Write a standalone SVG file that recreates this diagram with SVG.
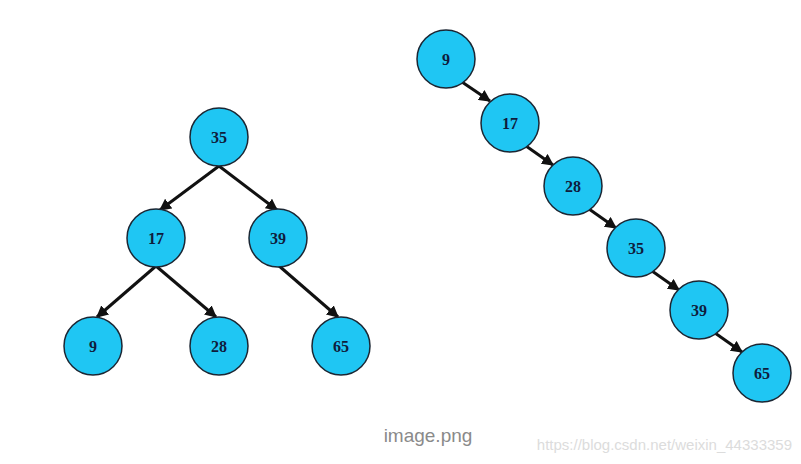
<svg xmlns="http://www.w3.org/2000/svg" width="801" height="464" viewBox="0 0 801 464">
<style>
.n circle{fill:#1fc6f3;stroke:#1b2633;stroke-width:1.5}
.n text{font-family:"Liberation Serif",serif;font-weight:bold;font-size:16px;fill:#0f1c3c;text-anchor:middle;dominant-baseline:central}
.e line{stroke:#111;stroke-width:3}
</style>
<defs>
<marker id="ah" viewBox="0 0 10 10" refX="9" refY="5" markerWidth="4" markerHeight="4" orient="auto" markerUnits="strokeWidth">
<path d="M0,0 L10,5 L0,10 z" fill="#111"/>
</marker>
</defs>
<rect width="801" height="464" fill="#fff"/>
<g class="e">
<line x1="219" y1="166" x2="160" y2="210" marker-end="url(#ah)"/>
<line x1="219" y1="166" x2="277" y2="210" marker-end="url(#ah)"/>
<line x1="156" y1="266" x2="97" y2="317" marker-end="url(#ah)"/>
<line x1="156" y1="266" x2="216" y2="317" marker-end="url(#ah)"/>
<line x1="278" y1="265" x2="338" y2="317" marker-end="url(#ah)"/>
<line x1="462" y1="82" x2="490" y2="101" marker-end="url(#ah)"/>
<line x1="526" y1="146" x2="553" y2="165" marker-end="url(#ah)"/>
<line x1="589" y1="209" x2="616" y2="228" marker-end="url(#ah)"/>
<line x1="652" y1="271" x2="679" y2="290" marker-end="url(#ah)"/>
<line x1="715" y1="333" x2="742" y2="352" marker-end="url(#ah)"/>
</g>
<g id="t35" class="n"><circle cx="219" cy="137" r="29"/><text x="219" y="137">35</text></g>
<g id="t17" class="n"><circle cx="156" cy="238" r="29"/><text x="156" y="238">17</text></g>
<g id="t39" class="n"><circle cx="278" cy="238" r="29"/><text x="278" y="238">39</text></g>
<g id="t9" class="n"><circle cx="93" cy="346" r="29"/><text x="93" y="346">9</text></g>
<g id="t28" class="n"><circle cx="219" cy="346" r="29"/><text x="219" y="346">28</text></g>
<g id="t65" class="n"><circle cx="341" cy="346" r="29"/><text x="341" y="346">65</text></g>
<g id="c9" class="n"><circle cx="446" cy="59" r="29"/><text x="446" y="59">9</text></g>
<g id="c17" class="n"><circle cx="510" cy="123" r="29"/><text x="510" y="123">17</text></g>
<g id="c28" class="n"><circle cx="573" cy="186" r="29"/><text x="573" y="186">28</text></g>
<g id="c35" class="n"><circle cx="636" cy="248" r="29"/><text x="636" y="248">35</text></g>
<g id="c39" class="n"><circle cx="699" cy="310" r="29"/><text x="699" y="310">39</text></g>
<g id="c65" class="n"><circle cx="762" cy="373" r="29"/><text x="762" y="373">65</text></g>
<text x="428" y="442" font-family="Liberation Sans,Arial,sans-serif" font-size="19" fill="#8a8a8a" text-anchor="middle">image.png</text>
<text x="792" y="450" font-family="Liberation Sans,Arial,sans-serif" font-size="15" fill="#dcdcdc" text-anchor="end">https://blog.csdn.net/weixin_44333359</text>
</svg>
